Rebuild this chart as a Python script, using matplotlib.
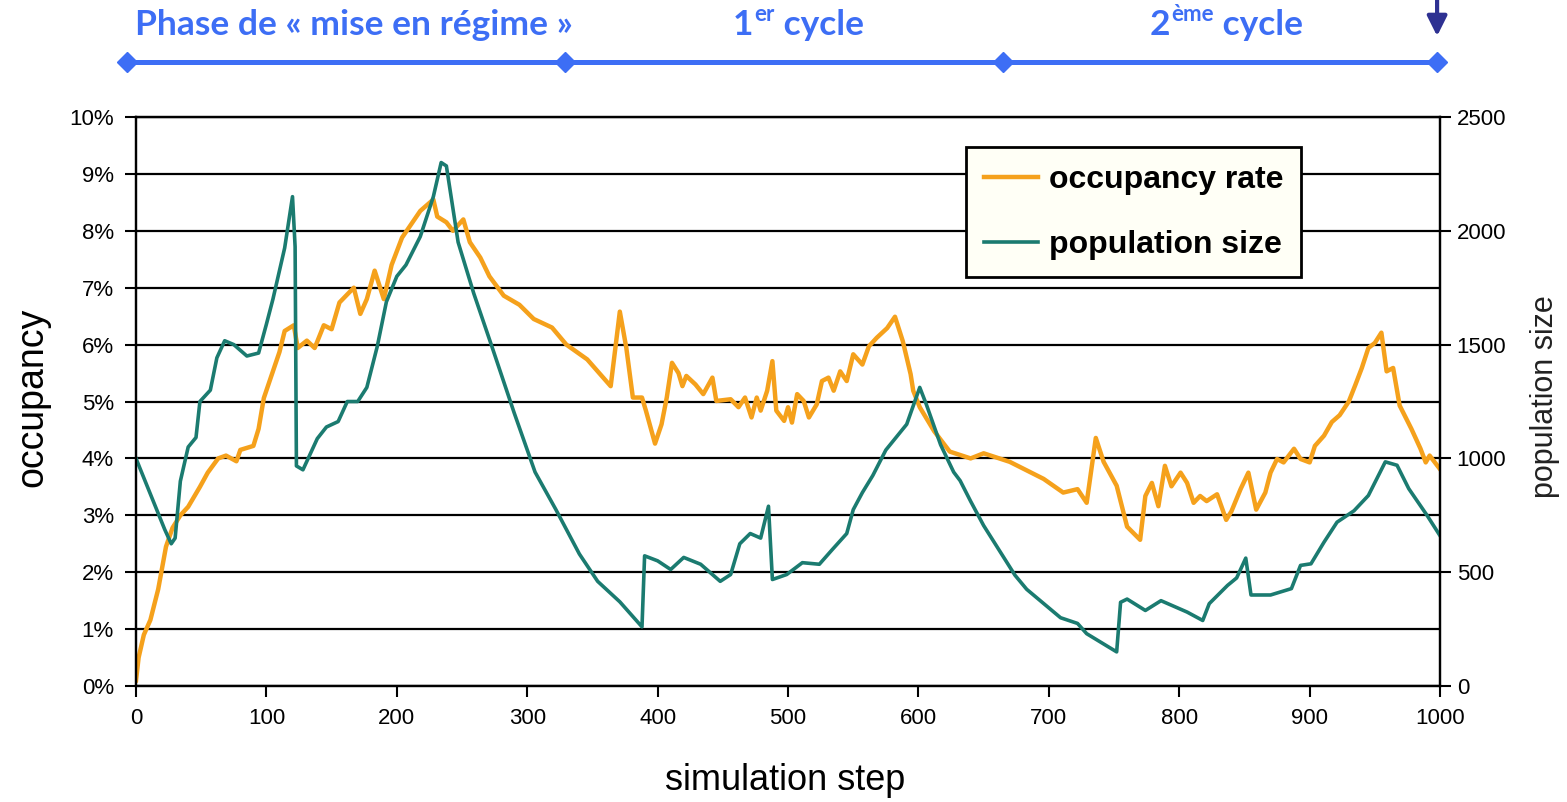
import matplotlib
matplotlib.use("Agg")
import matplotlib.pyplot as plt
import matplotlib.transforms as mtransforms
from matplotlib.ticker import FuncFormatter, MultipleLocator

# (simulation step, value)
pop_steps = [0, 3, 22, 27, 30, 34, 40, 46, 49, 57, 62, 68, 75, 85, 94, 100, 105, 114,
             120, 122, 123, 128, 139, 146, 155, 162, 170, 177, 185, 192, 200, 207, 218,
             228, 234, 238, 247, 259, 273, 290, 306, 322, 340, 354, 371, 388, 390, 400,
             410, 420, 433, 448, 456, 463, 471, 479, 485, 488, 499, 511, 524, 534, 545,
             550, 557, 565, 575, 591, 601, 606, 617, 627, 632, 640, 650, 674, 683, 709,
             722, 729, 752, 755, 760, 774, 786, 806, 818, 823, 837, 844, 851, 855, 870,
             886, 893, 901, 911, 921, 934, 945, 958, 967, 976, 990, 1000]
population = [1000, 957, 688, 625, 650, 900, 1050, 1092, 1250, 1300, 1442, 1517, 1500,
              1450, 1463, 1590, 1700, 1925, 2150, 1930, 967, 950, 1087, 1138, 1162, 1250,
              1250, 1312, 1492, 1688, 1800, 1850, 1975, 2150, 2300, 2285, 1950, 1725,
              1490, 1200, 940, 775, 580, 460, 370, 260, 572, 550, 512, 565, 535, 460, 490,
              625, 670, 650, 790, 468, 490, 542, 535, 600, 670, 775, 850, 925, 1037, 1150,
              1312, 1238, 1060, 940, 902, 812, 705, 487, 425, 300, 275, 230, 150, 368, 382,
              332, 375, 325, 288, 362, 442, 475, 562, 400, 400, 428, 530, 537, 632, 720,
              770, 837, 985, 970, 867, 750, 660]

occ_steps = [0, 2, 6, 11, 17, 23, 28, 34, 40, 49, 55, 63, 69, 77, 80, 90, 94, 98, 103,
             110, 114, 121, 124, 131, 137, 144, 150, 156, 167, 172, 177, 183, 190, 196,
             204, 210, 218, 228, 231, 238, 243, 251, 256, 264, 271, 282, 294, 305, 319,
             330, 346, 364,
             371, 376, 381, 388, 391, 398, 403, 407, 411, 416, 419, 422, 429, 435, 442,
             445, 456, 462, 467, 472, 476, 479, 484, 488, 491, 497, 500, 503, 507, 512,
             516, 522, 526, 531, 535, 540, 545, 550, 557, 562, 568, 576, 582, 588, 594,
             596, 601,
             612, 624, 640, 650, 670, 696, 711, 722, 729, 736, 742, 752, 760,
             770, 774, 779, 784, 789, 794, 801, 806, 811, 816, 821, 829, 836, 840, 847,
             853, 859, 866, 870, 875, 880, 888, 893, 900, 904, 911, 917, 923, 930, 935,
             940, 945, 950, 955, 959, 964, 969, 974, 978, 985, 989, 992, 1000]
occupancy = [0.1, 0.5, 0.9, 1.16, 1.7, 2.45, 2.78, 3.0, 3.15, 3.5, 3.75, 4.0, 4.05, 3.95,
             4.15, 4.22, 4.52, 5.06, 5.4, 5.87, 6.24, 6.34, 5.94, 6.07, 5.94, 6.34, 6.27,
             6.74, 7.0, 6.54, 6.8, 7.3, 6.8, 7.4, 7.88, 8.08, 8.35, 8.55, 8.25, 8.15, 8.0,
             8.2, 7.8, 7.53, 7.2, 6.86, 6.7, 6.45, 6.3, 6.0, 5.74, 5.27,
             6.58, 5.94, 5.07, 5.07, 4.84, 4.26, 4.6, 5.07, 5.68, 5.5, 5.27, 5.45, 5.3,
             5.13, 5.42, 5.01, 5.04, 4.9, 5.07, 4.72, 5.07, 4.84, 5.19, 5.71, 4.84, 4.66,
             4.9, 4.63, 5.13, 5.01, 4.72, 4.95, 5.36, 5.42, 5.19, 5.53, 5.36, 5.83, 5.65,
             5.97, 6.12, 6.29, 6.49, 6.06, 5.48, 5.19, 4.9,
             4.48, 4.12, 4.0, 4.09, 3.94, 3.64, 3.4, 3.46, 3.22, 4.36, 3.94, 3.52, 2.8,
             2.57, 3.34, 3.57, 3.16, 3.87, 3.51, 3.75, 3.57, 3.22, 3.34, 3.25, 3.37, 2.92,
             3.07, 3.46, 3.75, 3.1, 3.4, 3.75, 3.99, 3.93, 4.17, 3.99, 3.93, 4.22, 4.4,
             4.64, 4.76, 5.0, 5.29, 5.59, 5.94, 6.03, 6.21, 5.53, 5.59, 4.93, 4.7, 4.52,
             4.17, 3.93, 4.05, 3.81]

phase_bounds = [-7, 329, 665, 998]

ORANGE = "#F5A11C"
TEAL = "#1B7B70"
BLUE = "#3D6EF5"
NAVY = "#2E3192"

narrow = ["Liberation Sans Narrow", "Liberation Sans", "DejaVu Sans"]
plt.rcParams["font.family"] = ["Liberation Sans", "DejaVu Sans"]

fig = plt.figure(figsize=(15.67, 8.02), dpi=100)
ax = fig.add_axes([0.0868, 0.1446, 0.8322, 0.7095])
ax2 = ax.twinx()

occ_frac = [v / 100 for v in occupancy]
l1, = ax.plot(occ_steps, occ_frac, color=ORANGE, lw=3.2, label="occupancy rate")
l2, = ax2.plot(pop_steps, population, color=TEAL, lw=2.6, label="population size")

ax.set_xlim(0, 1000)
ax.set_ylim(0, 0.10)
ax2.set_ylim(0, 2500)
ax.xaxis.set_major_locator(MultipleLocator(100))
ax.yaxis.set_major_locator(MultipleLocator(0.01))
ax2.yaxis.set_major_locator(MultipleLocator(500))
ax.yaxis.set_major_formatter(FuncFormatter(lambda v, p: f"{v * 100:.0f}%"))

ax.grid(axis="y", color="black", lw=1.6)
ax.set_axisbelow(True)
for a in (ax, ax2):
    for s in a.spines.values():
        s.set_linewidth(1.6)
        s.set_color("black")

ax.tick_params(axis="both", direction="out", length=8, width=1.5, labelsize=16, pad=8)
ax2.tick_params(axis="y", direction="out", length=8, width=1.5, labelsize=16, pad=4)
for lab in ax.get_xticklabels() + ax.get_yticklabels() + ax2.get_yticklabels():
    lab.set_family(narrow)

ax.set_xlabel("simulation step", fontsize=26)
ax.xaxis.set_label_coords(0.4977, -0.135)
ax.set_ylabel("occupancy", fontsize=27)
ax.yaxis.set_label_coords(-0.066, 0.508)
ax2.set_ylabel("population size", fontsize=22, color="#222222")
ax2.yaxis.set_label_coords(1.069, 0.508)

leg = ax.legend(handles=[l1, l2], loc="upper left", bbox_to_anchor=(0.6365, 0.947),
                borderaxespad=0, prop={"weight": "bold", "size": 23}, handlelength=1.7,
                handletextpad=0.35, labelspacing=1.1, borderpad=0.55, fancybox=False,
                framealpha=1, edgecolor="black", facecolor="#FFFFF6")
leg.get_frame().set_linewidth(2)
leg.set_zorder(10)

# phase annotation above the plot
trans = mtransforms.blended_transform_factory(ax.transData, fig.transFigure)
ax.plot(phase_bounds, [0.9227] * len(phase_bounds), color=BLUE, lw=3.6, marker="D",
        markersize=10, transform=trans, clip_on=False)

tfont = {"family": ["Lato", "DejaVu Sans"], "weight": "bold", "color": BLUE}
fig.text(0.0861, 0.956, "Phase de « mise en régime »", fontsize=25.5, va="baseline", **tfont)

for x0, num, sup in [(0.4678, "1", "er"), (0.7339, "2", "ème")]:
    t1 = fig.text(x0, 0.956, num, fontsize=25.5, va="baseline", **tfont)
    t2 = ax.annotate(sup, xy=(1.05, 0.5), xycoords=t1, va="bottom", ha="left",
                     fontsize=16, annotation_clip=False, **tfont)
    ax.annotate(" cycle", xy=(1, 0), xycoords=(t2, t1), va="bottom", ha="left",
                fontsize=25.5, annotation_clip=False, **tfont)

ax.annotate("", xy=(0.9171, 0.955), xytext=(0.9171, 1.0), xycoords="figure fraction",
            arrowprops=dict(arrowstyle="-|>", color=NAVY, lw=3, mutation_scale=30,
                            shrinkA=0, shrinkB=0))

fig.savefig("out.png", dpi=100)
